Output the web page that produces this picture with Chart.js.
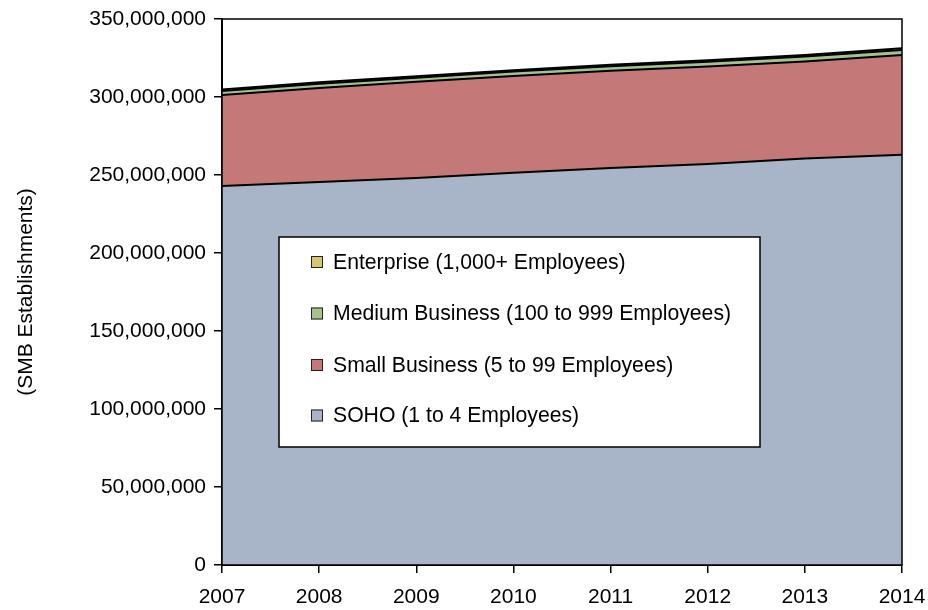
<!DOCTYPE html>
<html>
<head>
<meta charset="utf-8">
<script src="https://cdn.jsdelivr.net/npm/chart.js@4.4.1/dist/chart.umd.min.js"></script>
<style>
  html, body { margin: 0; padding: 0; background: #fff; }
  #wrap { width: 928px; height: 610px; }
</style>
</head>
<body>
<div id="wrap"><canvas id="c" width="928" height="610"></canvas></div>
<script>
// Years on the horizontal axis
const years = ['2007', '2008', '2009', '2010', '2011', '2012', '2013', '2014'];

// Establishments per company-size segment (stacked from the bottom up)
const soho       = [243000000, 245500000, 248000000, 251500000, 254500000, 257000000, 260500000, 263000000];
const small      = [ 58300000,  60300000,  61700000,  62000000,  62300000,  62600000,  62300000,  64000000];
const medium     = [  2600000,   2700000,   2700000,   2800000,   2900000,   3000000,   3100000,   3200000];
const enterprise = [   900000,    900000,    900000,    900000,   1000000,   1000000,   1000000,   1000000];

// Series names as shown in the key
const seriesNames = [
  'SOHO (1 to 4 Employees)',
  'Small Business (5 to 99 Employees)',
  'Medium Business (100 to 999 Employees)',
  'Enterprise (1,000+ Employees)'
];

// Vertical axis range and step
const yMin = 0, yMax = 350000000, yStep = 50000000;

const FONT = '"Liberation Sans", Arial, Helvetica, sans-serif';
const colors = ['#A8B4C8', '#C47878', '#A4C48E', '#D6C66E'];

// Key box drawn inside the plot, plus a black frame around the plot area
const keyAndFrame = {
  id: 'keyAndFrame',
  afterDatasetsDraw(chart) {
    const ctx = chart.ctx;
    const a = chart.chartArea;
    ctx.save();
    // plot frame
    ctx.strokeStyle = '#000';
    ctx.lineWidth = 1.5;
    ctx.strokeRect(a.left, a.top, a.right - a.left, a.bottom - a.top);

    // key box
    const bx = 279, by = 237, bw = 481, bh = 210;
    ctx.fillStyle = '#fff';
    ctx.fillRect(bx, by, bw, bh);
    ctx.lineWidth = 1.5;
    ctx.strokeStyle = '#000';
    ctx.strokeRect(bx, by, bw, bh);

    ctx.font = '21.2px ' + FONT;
    ctx.textBaseline = 'middle';
    ctx.textAlign = 'left';
    const order = [3, 2, 1, 0];
    const rowY = [262, 313.5, 365, 415.5];
    order.forEach((di, i) => {
      const ds = chart.data.datasets[di];
      const y = rowY[i];
      ctx.fillStyle = ds.backgroundColor;
      ctx.fillRect(311, y - 6, 12, 12);
      ctx.lineWidth = 1;
      ctx.strokeStyle = '#222';
      ctx.strokeRect(311.5, y - 5.5, 11, 11);
      ctx.fillStyle = '#000';
      ctx.fillText(ds.label, 333, y + 1);
    });
    ctx.restore();
  }
};

function layer(idx, values, fill) {
  return {
    label: seriesNames[idx],
    data: values,
    backgroundColor: colors[idx],
    borderColor: '#000',
    borderWidth: 2,
    pointRadius: 0,
    pointHoverRadius: 0,
    tension: 0,
    fill: fill
  };
}

new Chart(document.getElementById('c'), {
  type: 'line',
  data: {
    labels: years,
    datasets: [
      layer(0, soho, 'origin'),
      layer(1, small, '-1'),
      layer(2, medium, '-1'),
      layer(3, enterprise, '-1')
    ]
  },
  options: {
    responsive: false,
    animation: false,
    devicePixelRatio: 1,
    layout: { padding: { left: 0, right: 26, top: 19, bottom: 0 } },
    plugins: {
      legend: { display: false },
      tooltip: { enabled: false },
      filler: { propagate: false }
    },
    scales: {
      x: {
        type: 'category',
        offset: false,
        grid: { display: true, drawOnChartArea: false, drawTicks: true, tickLength: 8, color: '#000', lineWidth: 1.5 },
        border: { display: true, color: '#000', width: 2 },
        ticks: { color: '#000', font: { family: FONT, size: 21 }, padding: 12, maxRotation: 0, autoSkip: false },
        afterFit(s) { s.height = 45; s.paddingLeft = 0; s.paddingRight = 0; }
      },
      y: {
        stacked: true,
        min: yMin,
        max: yMax,
        grid: { display: true, drawOnChartArea: false, drawTicks: true, tickLength: 8, color: '#000', lineWidth: 1.5 },
        border: { display: true, color: '#000', width: 2 },
        ticks: {
          stepSize: yStep,
          color: '#000',
          font: { family: FONT, size: 21 },
          padding: 8,
          callback: v => Number(v).toLocaleString('en-US')
        },
        title: {
          display: true,
          text: '(SMB Establishments)',
          color: '#000',
          font: { family: FONT, size: 21 },
          padding: { top: 14, bottom: 0 }
        },
        afterFit(s) { s.width = 222; s.paddingTop = 0; s.paddingBottom = 0; }
      }
    }
  },
  plugins: [keyAndFrame]
});
</script>
</body>
</html>
